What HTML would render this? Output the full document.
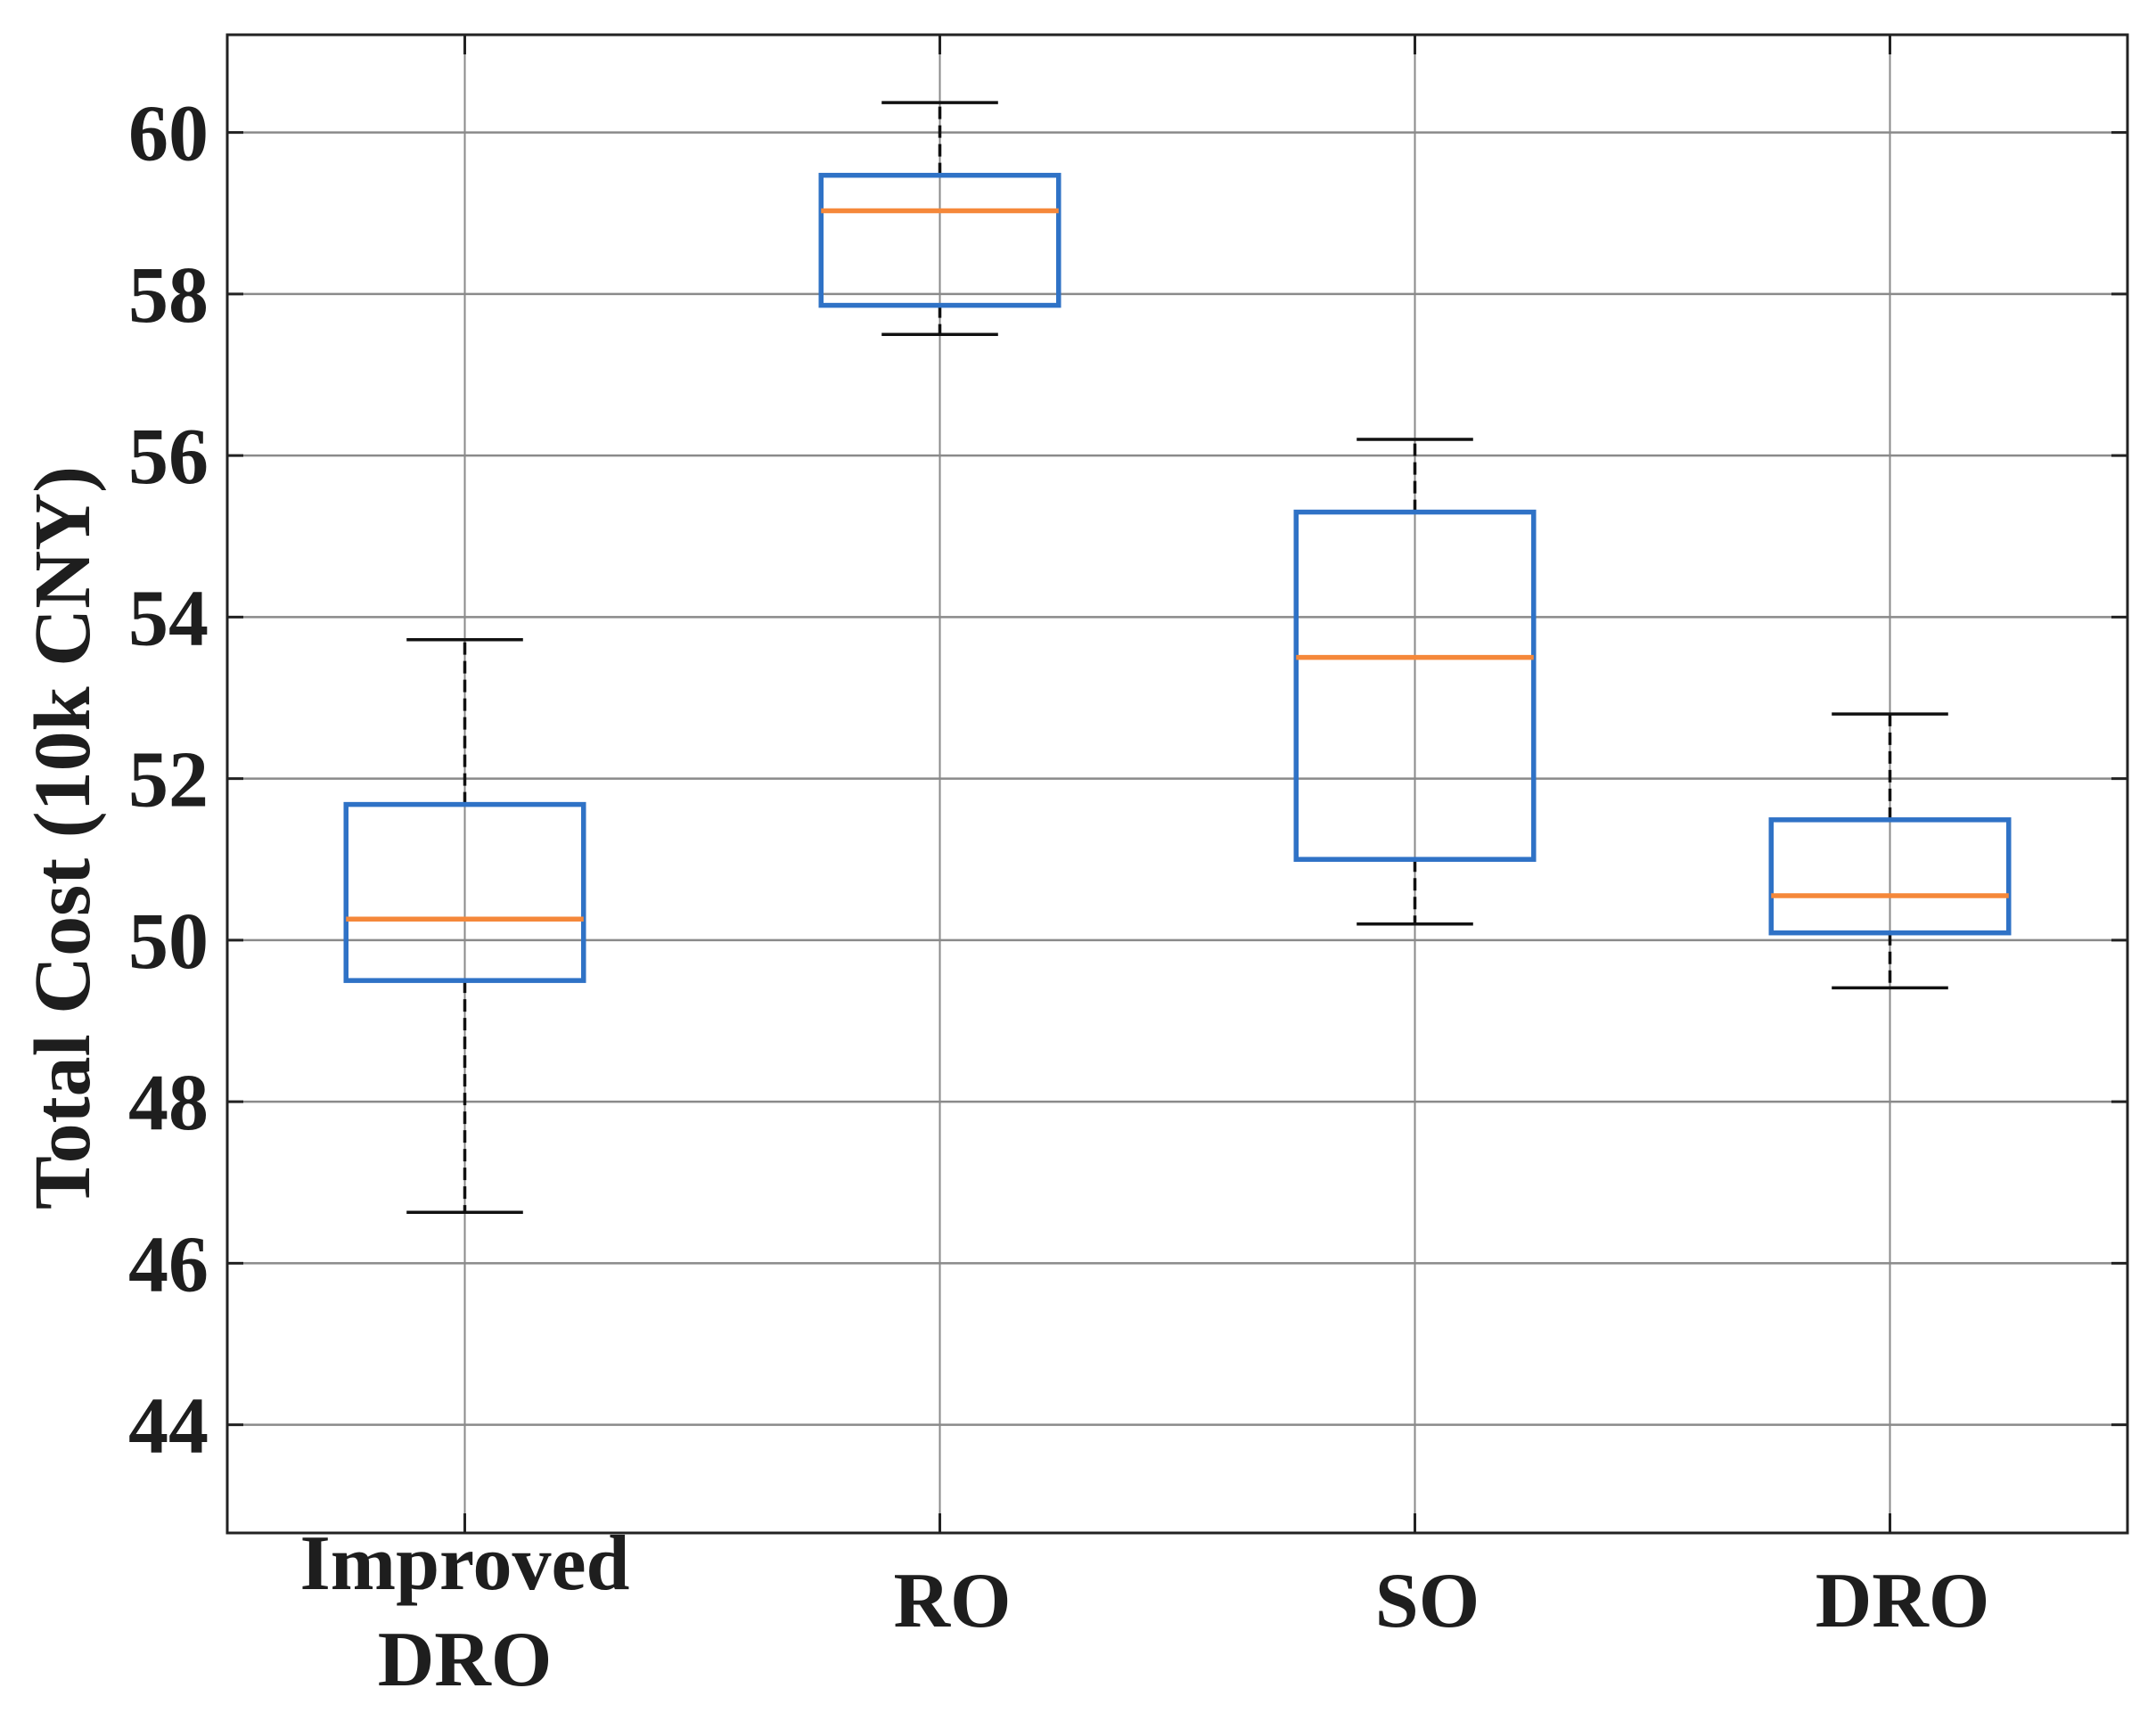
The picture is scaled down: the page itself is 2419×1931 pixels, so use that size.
<!DOCTYPE html>
<html><head><meta charset="utf-8"><style>
html,body{margin:0;padding:0;background:#fff;}
svg{display:block;}
text{font-family:"Liberation Serif",serif;font-weight:bold;fill:#1e1e1e;}
</style></head><body>
<svg id="chart" width="2419" height="1931" viewBox="0 0 2419 1931" xmlns="http://www.w3.org/2000/svg">
<rect x="0" y="0" width="2419" height="1931" fill="#fff"/>
<g id="grid"></g>
<g id="boxes"></g>
<g id="axes"></g>
<text transform="translate(100,940) rotate(-90)" text-anchor="middle" font-size="90">Total Cost (10k CNY)</text>
</svg>
<script>
const categories = ["Improved DRO", "RO", "SO", "DRO"];
const whiskerLow = [46.63, 57.50, 50.20, 49.41];
const q1 = [49.50, 57.86, 51.00, 50.09];
const median = [50.26, 59.03, 53.50, 50.55];
const q3 = [51.68, 59.47, 55.30, 51.49];
const whiskerHigh = [53.72, 60.37, 56.20, 52.80];
const yTicks = [44, 46, 48, 50, 52, 54, 56, 58, 60];

const L = 255, R = 2387, T = 39, B = 1720;
const yMin = 42.66, yMax = 61.21;
const xMin = 0.5, xMax = 4.5;
const y = v => B - (v - yMin) / (yMax - yMin) * (B - T);
const x = i => L + (i + 1 - xMin) / (xMax - xMin) * (R - L);
const NS = "http://www.w3.org/2000/svg";
function mk(parent, tag, attrs) {
  const e = document.createElementNS(NS, tag);
  for (const k in attrs) e.setAttribute(k, attrs[k]);
  parent.appendChild(e);
  return e;
}
const grid = document.getElementById("grid");
const boxes = document.getElementById("boxes");
const axes = document.getElementById("axes");
const unit = (R - L) / (xMax - xMin);

yTicks.forEach(t => {
  const g = mk(grid, "line", {x1: L, x2: R, y1: y(t), y2: y(t), stroke: "#8a8a8a", "stroke-width": 2.5});
  
  
  const tl = mk(axes, "line", {x1: L, x2: L + 18, y1: y(t), y2: y(t), stroke: "#222", "stroke-width": 3});
  
  
  const tr = mk(axes, "line", {x1: R - 18, x2: R, y1: y(t), y2: y(t), stroke: "#222", "stroke-width": 3});
  
  
  const lab = mk(axes, "text", {x: 234, y: y(t) + 31, "text-anchor": "end", "font-size": 90});
  lab.textContent = t;
  
  
});

categories.forEach((c, i) => {
  const cx = x(i);
  const g = mk(grid, "line", {x1: cx, x2: cx, y1: T, y2: B, stroke: "#8a8a8a", "stroke-width": 2});
  
  
  const tk = mk(axes, "line", {x1: cx, x2: cx, y1: B - 22, y2: B, stroke: "#222", "stroke-width": 3});
  
  
  const tk2 = mk(axes, "line", {x1: cx, x2: cx, y1: T, y2: T + 22, stroke: "#222", "stroke-width": 3});
  
  

  const bw = unit * 0.5, cw = unit * 0.245;
  const w1 = mk(boxes, "line", {x1: cx, x2: cx, y1: y(q3[i]), y2: y(whiskerHigh[i]), stroke: "#111", "stroke-width": 3.5, "stroke-dasharray": "14 7"});
  
  
  const w2 = mk(boxes, "line", {x1: cx, x2: cx, y1: y(q1[i]), y2: y(whiskerLow[i]), stroke: "#111", "stroke-width": 3.5, "stroke-dasharray": "14 7"});
  
  
  const c1 = mk(boxes, "line", {x1: cx - cw / 2, x2: cx + cw / 2, y1: y(whiskerHigh[i]), y2: y(whiskerHigh[i]), stroke: "#111", "stroke-width": 3.5});
  
  
  const c2 = mk(boxes, "line", {x1: cx - cw / 2, x2: cx + cw / 2, y1: y(whiskerLow[i]), y2: y(whiskerLow[i]), stroke: "#111", "stroke-width": 3.5});
  
  
  const bx = mk(boxes, "rect", {x: cx - bw / 2, y: y(q3[i]), width: bw, height: y(q1[i]) - y(q3[i]), fill: "none", stroke: "#2f72c6", "stroke-width": 5.5});
  
  
  const md = mk(boxes, "line", {x1: cx - bw / 2, x2: cx + bw / 2, y1: y(median[i]), y2: y(median[i]), stroke: "#f5883a", "stroke-width": 5.5});
  
  

  const words = c === "Improved DRO" ? ["Improved", "DRO"] : [c];
  words.forEach((wd, k) => {
    const yy = words.length === 2 ? (k === 0 ? 1783 : 1891) : 1825;
    const lab = mk(axes, "text", {x: cx + (words.length === 2 ? 0 : 14), y: yy, "text-anchor": "middle", "font-size": 88});
    lab.textContent = wd;
    
    
  });
});

const frame = mk(axes, "rect", {x: L, y: T, width: R - L, height: B - T, fill: "none", stroke: "#222", "stroke-width": 3});


</script>
</body></html>
